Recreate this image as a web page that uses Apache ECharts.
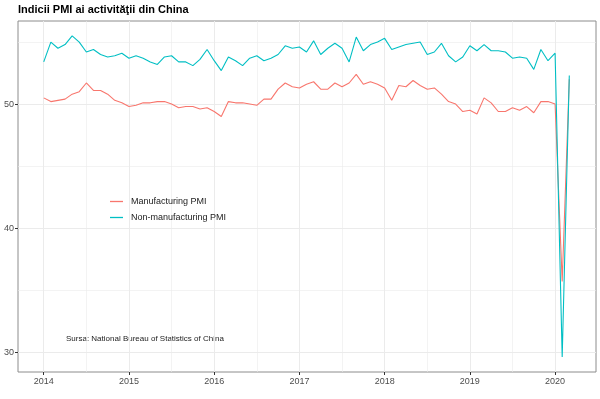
<!DOCTYPE html>
<html>
<head>
<meta charset="utf-8">
<script src="https://cdn.jsdelivr.net/npm/echarts@6/dist/echarts.min.js"></script>
<style>
html, body { margin: 0; padding: 0; background: #fff; }
#pmi { width: 600px; height: 399px; }
</style>
</head>
<body>
<div id="pmi"></div>
<script>
// monthly, Jan 2014 .. Mar 2020
var firstYear = 2014;
var manufacturing = [
	50.5, 50.2, 50.3, 50.4, 50.8, 51.0, 51.7, 51.1, 51.1, 50.8, 50.3, 50.1,
	49.8, 49.9, 50.1, 50.1, 50.2, 50.2, 50.0, 49.7, 49.8, 49.8, 49.6, 49.7,
	49.4, 49.0, 50.2, 50.1, 50.1, 50.0, 49.9, 50.4, 50.4, 51.2, 51.7, 51.4,
	51.3, 51.6, 51.8, 51.2, 51.2, 51.7, 51.4, 51.7, 52.4, 51.6, 51.8, 51.6,
	51.3, 50.3, 51.5, 51.4, 51.9, 51.5, 51.2, 51.3, 50.8, 50.2, 50.0, 49.4,
	49.5, 49.2, 50.5, 50.1, 49.4, 49.4, 49.7, 49.5, 49.8, 49.3, 50.2, 50.2,
	50.0, 35.7, 52.0
];
var nonManufacturing = [
	53.4, 55.0, 54.5, 54.8, 55.5, 55.0, 54.2, 54.4, 54.0, 53.8, 53.9, 54.1,
	53.7, 53.9, 53.7, 53.4, 53.2, 53.8, 53.9, 53.4, 53.4, 53.1, 53.6, 54.4,
	53.5, 52.7, 53.8, 53.5, 53.1, 53.7, 53.9, 53.5, 53.7, 54.0, 54.7, 54.5,
	54.6, 54.2, 55.1, 54.0, 54.5, 54.9, 54.5, 53.4, 55.4, 54.3, 54.8, 55.0,
	55.3, 54.4, 54.6, 54.8, 54.9, 55.0, 54.0, 54.2, 54.9, 53.9, 53.4, 53.8,
	54.7, 54.3, 54.8, 54.3, 54.3, 54.2, 53.7, 53.8, 53.7, 52.8, 54.4, 53.5,
	54.1, 29.6, 52.3
];
var yearTicks = [2014, 2015, 2016, 2017, 2018, 2019, 2020];
var halfYearLines = [2014.5, 2015.5, 2016.5, 2017.5, 2018.5, 2019.5];
var yLabels = [30, 40, 50];
var yMinorLines = [35, 45, 55];

function toPoints(values) {
	return values.map(function (v, i) {
		return [firstYear + i / 12, v];
	});
}

var gridColor = '#ebebeb';
var labelStyle = { color: '#4d4d4d', fontSize: 9, fontFamily: 'Liberation Sans' };

var chart = echarts.init(document.getElementById('pmi'));
chart.setOption({
	animation: false,
	textStyle: { fontFamily: 'Liberation Sans' },
	title: {
		text: 'Indicii PMI ai activităţii din China',
		left: 18, top: 4, padding: 0,
		textStyle: { fontSize: 11, fontWeight: 'bold', color: '#000', fontFamily: 'Liberation Sans' }
	},
	grid: {
		left: 18, right: 4, top: 21, bottom: 27,
		show: true, borderColor: '#8c8c8c', borderWidth: 1, backgroundColor: '#fff'
	},
	legend: {
		orient: 'vertical', left: 110, top: 197, itemGap: 7, padding: 0,
		icon: 'rect', itemWidth: 13, itemHeight: 1.3,
		textStyle: { color: '#222', fontSize: 9, fontFamily: 'Liberation Sans', padding: [0, 0, 0, 3] },
		data: ['Manufacturing PMI', 'Non-manufacturing PMI']
	},
	graphic: [{
		type: 'text', left: 66, top: 335,
		style: { text: 'Sursa: National Bureau of Statistics of China', fill: '#222', font: '8px "Liberation Sans"' }
	}],
	xAxis: [{
		type: 'value', min: 2013.698, max: 2020.48,
		axisLine: { show: false },
		axisTick: { show: true, length: 3, lineStyle: { color: '#333' }, customValues: yearTicks },
		axisLabel: Object.assign({
			customValues: yearTicks, margin: 5,
			formatter: function (v) { return String(v); }
		}, labelStyle),
		splitLine: { show: true, lineStyle: { color: gridColor, width: 1 } }
	}, {
		type: 'value', min: 2013.698, max: 2020.48,
		axisLine: { show: false },
		axisTick: { show: false, customValues: halfYearLines },
		axisLabel: { show: false, customValues: halfYearLines },
		splitLine: { show: true, lineStyle: { color: gridColor, width: 0.6 } }
	}],
	yAxis: [{
		type: 'value', min: 28.39, max: 56.7,
		axisLine: { show: false },
		axisTick: { show: true, length: 3, lineStyle: { color: '#333' }, customValues: yLabels },
		axisLabel: Object.assign({ customValues: yLabels, margin: 4 }, labelStyle),
		splitLine: { show: true, lineStyle: { color: gridColor, width: 1 } }
	}, {
		type: 'value', min: 28.39, max: 56.7,
		axisLine: { show: false },
		axisTick: { show: false, customValues: yMinorLines },
		axisLabel: { show: false, customValues: yMinorLines },
		splitLine: { show: true, lineStyle: { color: gridColor, width: 0.6 } }
	}],
	series: [{
		name: 'Manufacturing PMI', type: 'line', showSymbol: false,
		color: '#F8766D', lineStyle: { width: 1.1 },
		data: toPoints(manufacturing)
	}, {
		name: 'Non-manufacturing PMI', type: 'line', showSymbol: false,
		color: '#00BFC4', lineStyle: { width: 1.1 },
		data: toPoints(nonManufacturing)
	}]
});
</script>
</body>
</html>
